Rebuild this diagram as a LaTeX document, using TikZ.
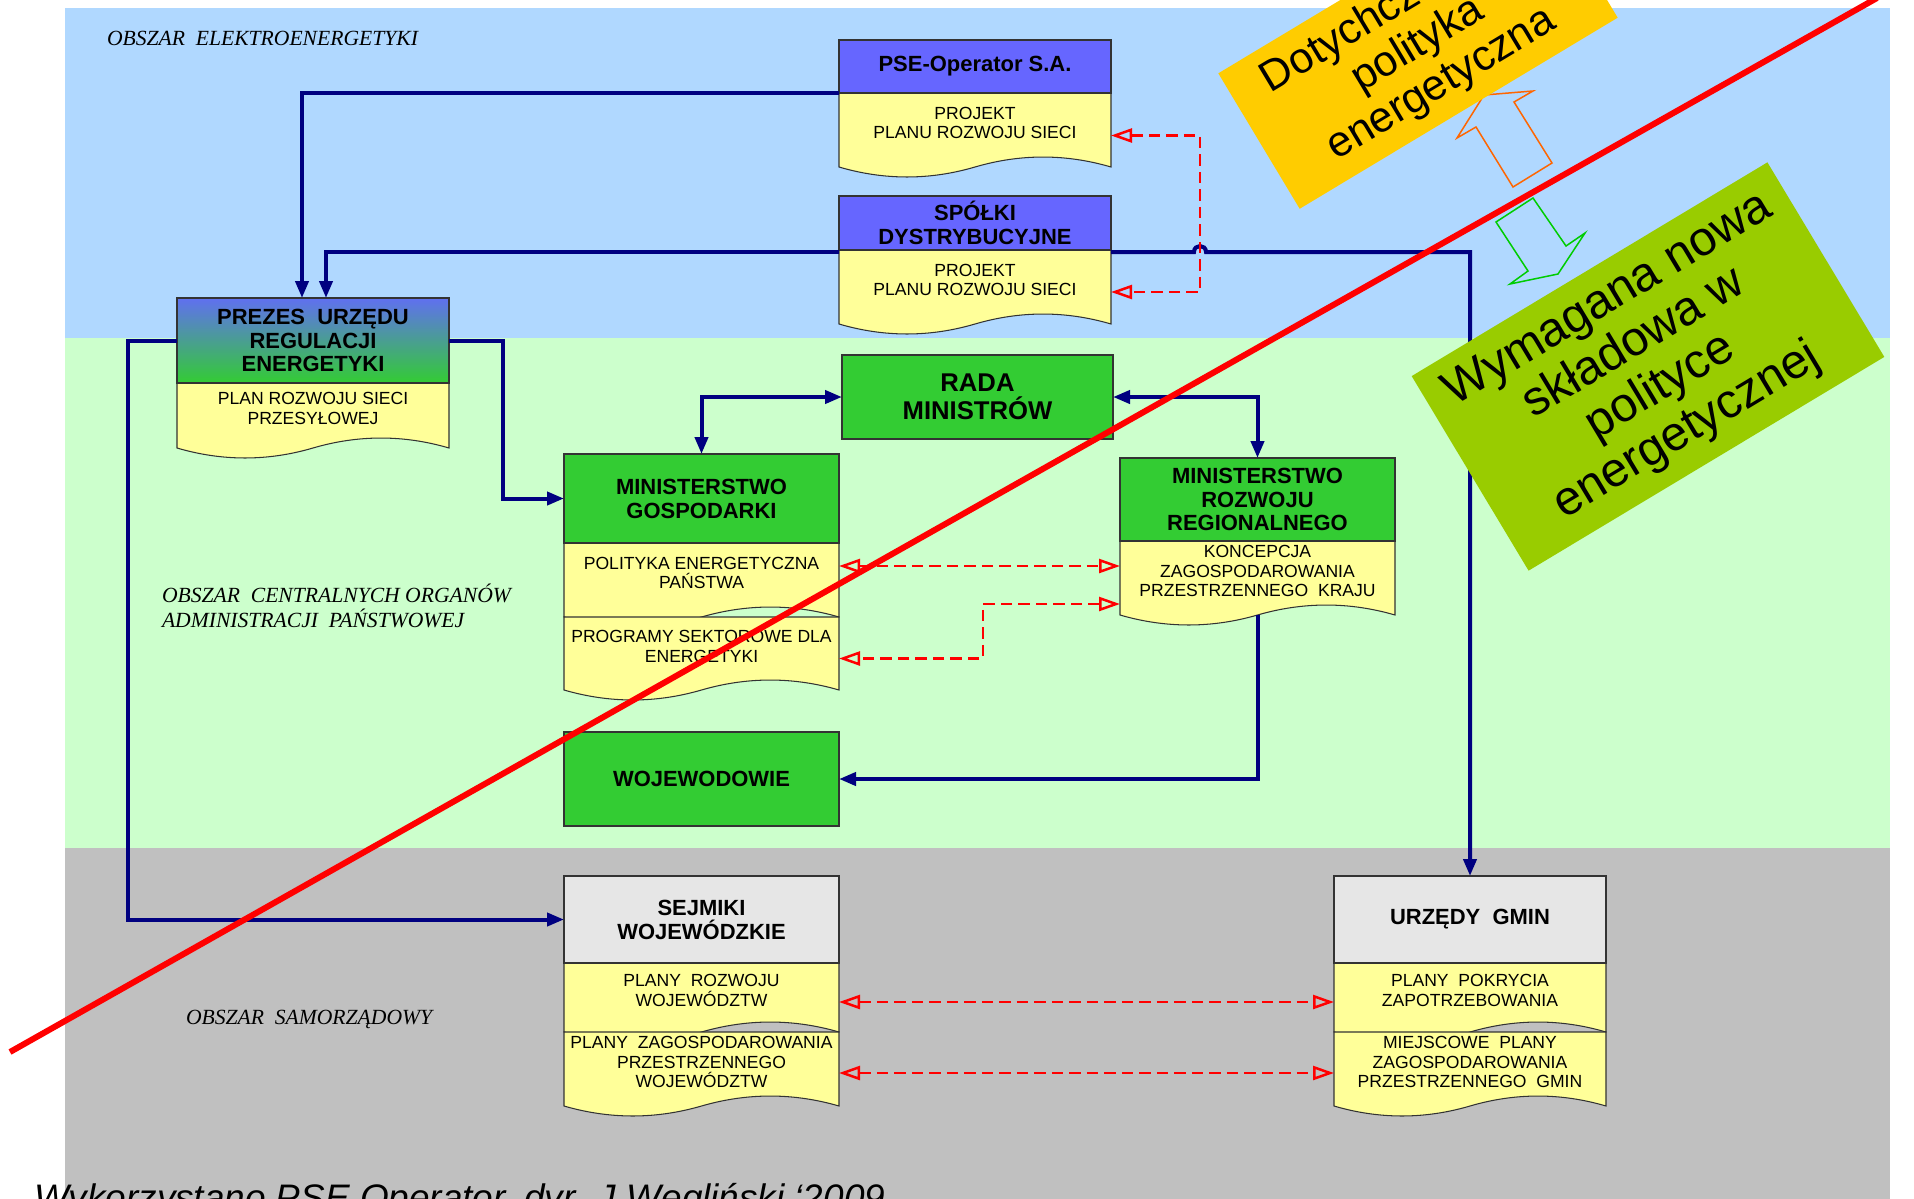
\documentclass[tikz,border=0pt]{standalone}
\usepackage{fontspec}
\setmainfont{Liberation Sans}
\newfontfamily\serfam{Liberation Serif}
\usetikzlibrary{arrows.meta,positioning,calc}

\definecolor{bandblue}{HTML}{B0D8FF}
\definecolor{bandgreen}{HTML}{CCFFCC}
\definecolor{bandgray}{HTML}{C0C0C0}
\definecolor{hdrblue}{HTML}{6666FF}
\definecolor{prezblue}{HTML}{6070F0}
\definecolor{boxgreen}{HTML}{33CC33}
\definecolor{hdrgray}{HTML}{E6E6E6}
\definecolor{docyellow}{HTML}{FFFF99}
\definecolor{navy}{HTML}{000080}
\definecolor{oldorange}{HTML}{FFCC00}
\definecolor{newgreen}{HTML}{99CC00}
\definecolor{arroworange}{HTML}{FF6600}
\definecolor{arrowgreen}{HTML}{00CC00}

\pgfdeclarelayer{bands}
\pgfdeclarelayer{docs}
\pgfsetlayers{bands,docs,main}

\newcommand\hdrfont{\fontsize{12.5}{13.6}\selectfont\bfseries}
\newcommand\radafont{\fontsize{14.6}{16}\selectfont\bfseries}
\newcommand\docfont{\fontsize{10}{11.1}\selectfont}

% wavy document outline under a plan node
\newcommand\docwave[1]{%
  \filldraw[docline] (#1.north west) -- (#1.north east) -- ($(#1.south east)+(0,14)$)
    .. controls ($(#1.south east)!0.333!(#1.south)+(0,0.7)$) and ($(#1.south east)!0.667!(#1.south)+(0,0.7)$) .. ($(#1.south)+(0,14)$)
    .. controls ($(#1.south)!0.333!(#1.south west)+(0,27.3)$) and ($(#1.south)!0.667!(#1.south west)+(0,27.3)$) .. ($(#1.south west)+(0,14)$)
    -- cycle;}

\begin{document}
\begin{tikzpicture}[
  x=0.2mm, y=-0.2mm,
  >={Triangle[length=3.4mm,width=2.6mm]},
  every node/.style={inner sep=0pt, outer sep=0pt},
  hdr/.style={draw=black!80, line width=0.6pt, align=center, font=\hdrfont, minimum width=54.4mm},
  wide/.style={minimum width=55mm},
  plan/.style={align=center, font=\docfont, minimum width=54.4mm, minimum height=12mm},
  docline/.style={fill=docyellow, draw=black!80, line width=0.6pt},
  conn/.style={draw=navy, line width=0.8mm, ->},
  link/.style={draw=red, line width=0.5mm, dash pattern=on 2.3mm off 1.2mm, {Triangle[open,length=4.2mm,width=2.8mm]}-{Triangle[open,length=4.2mm,width=2.8mm]}},
  area/.style={font=\serfam\itshape\fontsize{12.3}{13.9}\selectfont, align=left, anchor=west},
  policy/.style={rotate=31, align=center}
]
\useasboundingbox (0,0) rectangle (1914,1199);
\clip (0,0) rectangle (1914,1199);

\begin{pgfonlayer}{bands}
\fill[white] (0,0) rectangle (1914,1199);
\fill[bandblue] (65,8) rectangle (1890,338);
\fill[bandgreen] (65,338) rectangle (1890,848);
\fill[bandgray] (65,848) rectangle (1890,1199);
\end{pgfonlayer}

% area labels
\node[area] (elarea) at (107,38) {OBSZAR\ \ ELEKTROENERGETYKI};
\node[area] (adarea) at (162,606) {OBSZAR\ \ CENTRALNYCH ORGANÓW\\ADMINISTRACJI\ \ PAŃSTWOWEJ};
\node[area] (smarea) at (186,1019) {OBSZAR\ \ SAMORZĄDOWY};

% electricity sector
\node[hdr, fill=hdrblue, minimum height=10.6mm] (pse) at (975,66.5) {PSE-Operator S.A.};
\node[plan, below=0pt of pse] (psepl) {PROJEKT\\PLANU ROZWOJU SIECI};
\node[hdr, fill=hdrblue, minimum height=10.8mm] (sd) at (975,223) {SPÓŁKI\\DYSTRYBUCYJNE};
\node[plan, below=0pt of sd] (sdpl) {PROJEKT\\PLANU ROZWOJU SIECI};
\node[hdr, top color=prezblue, bottom color=boxgreen, minimum height=17mm] (prezes) at (313,340.5) {PREZES\ \ URZĘDU\\REGULACJI\\ENERGETYKI};
\node[plan, below=0pt of prezes, minimum height=10.2mm] (prezespl) {PLAN ROZWOJU SIECI\\PRZESYŁOWEJ};

% central administration
\node[hdr, fill=boxgreen, font=\radafont, minimum width=54.2mm, minimum height=16.8mm] (rada) at (977.5,397) {RADA\\MINISTRÓW};
\node[hdr, wide, fill=boxgreen, minimum height=17.8mm] (mg) at (701.5,498.5) {MINISTERSTWO\\GOSPODARKI};
\node[plan, wide, below=0pt of mg] (mgpol) {POLITYKA ENERGETYCZNA\\PAŃSTWA};
\node[plan, wide, below=2.8mm of mgpol, minimum height=11.8mm] (mgprog) {PROGRAMY SEKTOROWE DLA\\ENERGETYKI};
\node[hdr, wide, fill=boxgreen, minimum height=16.6mm] (mrr) at (1257.5,499.5) {MINISTERSTWO\\ROZWOJU\\REGIONALNEGO};
\node[plan, wide, below=0pt of mrr] (mrrpl) {KONCEPCJA\\ZAGOSPODAROWANIA\\PRZESTRZENNEGO\ \ KRAJU};
\node[hdr, wide, fill=boxgreen, minimum height=18.8mm] (woj) at (701.5,779) {WOJEWODOWIE};

% local government
\node[hdr, wide, fill=hdrgray, minimum height=17.4mm] (sej) at (701.5,919.5) {SEJMIKI\\WOJEWÓDZKIE};
\node[plan, wide, below=0pt of sej, minimum height=11mm] (sejroz) {PLANY\ \ ROZWOJU\\WOJEWÓDZTW};
\node[plan, wide, below=2.8mm of sejroz] (sejzag) {PLANY\ \ ZAGOSPODAROWANIA\\PRZESTRZENNEGO\\WOJEWÓDZTW};
\node[hdr, fill=hdrgray, minimum height=17.4mm] (urz) at (1470,919.5) {URZĘDY\ \ GMIN};
\node[plan, below=0pt of urz, minimum height=11mm] (urzpok) {PLANY\ \ POKRYCIA\\ZAPOTRZEBOWANIA};
\node[plan, below=2.8mm of urzpok] (urzmpz) {MIEJSCOWE\ \ PLANY\\ZAGOSPODAROWANIA\\PRZESTRZENNEGO\ \ GMIN};

\begin{pgfonlayer}{docs}
\foreach \d in {psepl,sdpl,prezespl,mgpol,mgprog,mrrpl,sejroz,sejzag,urzpok,urzmpz} {\docwave{\d}}
\end{pgfonlayer}

\coordinate (jump) at (1200,252);
\coordinate (kink) at (983,630);

% reporting lines
\draw[conn] (pse.south west) -| ([xshift=-2.2mm]prezes.north);
\draw[conn] ([yshift=-0.4mm]sd.south west) -| ([xshift=2.6mm]prezes.north);
\draw[conn] ([yshift=-0.4mm]sd.south east) -- ([xshift=-1.2mm]jump) .. controls +(0,-8) and +(0,-8) .. ([xshift=1.2mm]jump) -| (urz.north);
\draw[conn] (prezes.west) -- ++(-49,0) |- (sej.west);
\draw[conn] (prezes.east) -- ++(54,0) |- (mg.west);
\draw[conn, <->] (rada.west) -| (mg.north);
\draw[conn, <->] (rada.east) -| (mrr.north);
\draw[conn] ([yshift=-2.8mm]mrrpl.south) |- (woj.east);

% plan consistency
\draw[link] ([yshift=-2.5mm]psepl.east) -| (jump) |- ([yshift=-2.4mm]sdpl.east);
\draw[link] ([yshift=1.4mm]mgpol.east) -- ([yshift=1.4mm]mgpol.east -| mrrpl.west);
\draw[link] ([yshift=-6.6mm]mrrpl.west) -| (kink) |- ([yshift=-2.4mm]mgprog.east);
\draw[link] ([yshift=-2.3mm]sejroz.east) -- ([yshift=-2.3mm]sejroz.east -| urzpok.west);
\draw[link] ([yshift=-2.2mm]sejzag.east) -- ([yshift=-2.2mm]sejzag.east -| urzmpz.west);

% old vs new policy
\draw[arroworange, line width=0.3mm] (1484,95) -- (1533,91) -- (1514,102) -- (1552,163) -- (1513,187) -- (1476,127) -- (1457,138) -- cycle;
\draw[arrowgreen, line width=0.3mm] (1496,222) -- (1533,198) -- (1566,246) -- (1585,233) -- (1558,274) -- (1510,284) -- (1528,271) -- cycle;
\node[policy, fill=oldorange, minimum width=74.2mm, minimum height=31.6mm, font=\fontsize{24.5}{26}\selectfont] (oldpol) at (1418,45.5) {Dotychczasowa\\polityka\\energetyczna};
\node[policy, fill=newgreen, minimum width=83mm, minimum height=45.4mm, font=\fontsize{27.5}{29}\selectfont] (newpol) at (1648,366.5) {Wymagana nowa\\składowa w\\polityce\\energetycznej};

\draw[red, line width=1.2mm] (10,1052) -- (1877,-2);

\node[anchor=base west, font=\itshape\fontsize{21}{24}\selectfont] (credit) at (34,1210) {Wykorzystano PSE Operator, dyr. J.Węgliński ‘2009};
\end{tikzpicture}
\end{document}
